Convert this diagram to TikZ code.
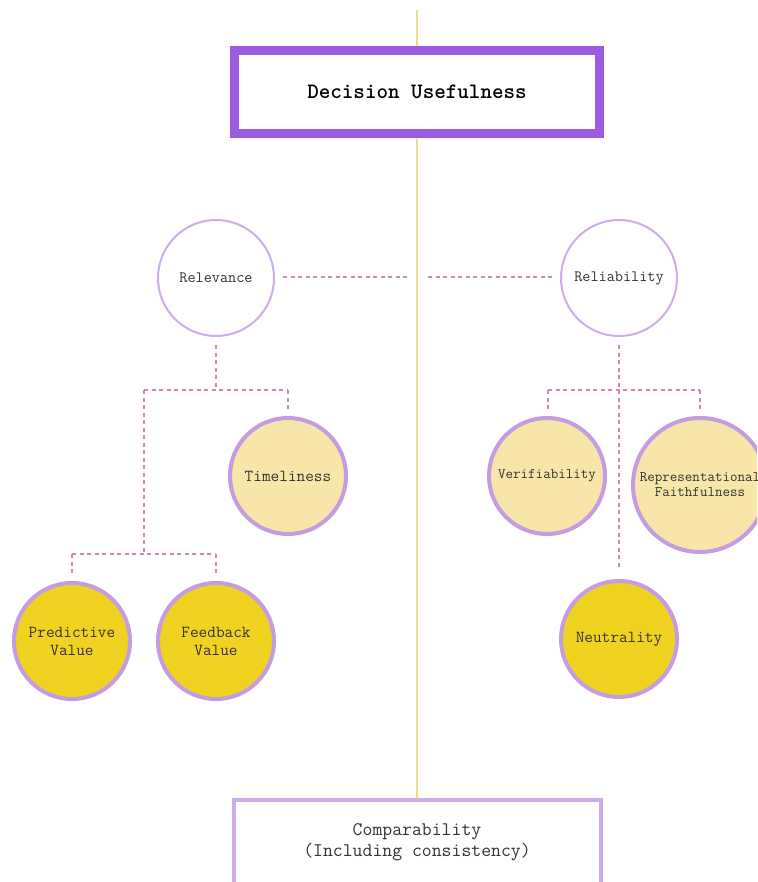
\documentclass[tikz,border=0pt]{standalone}
\usepackage{fontspec}
\begin{document}
\begin{tikzpicture}[x=1pt,y=-1pt,
  lbl/.style={font=\ttfamily\fontsize{16.8}{18}\selectfont, text=black!80, align=center},
  topcirc/.style={circle, draw=purpleL, line width=2pt, fill=white, minimum size=116pt, inner sep=0pt, lbl, font=\ttfamily\fontsize{15.8}{18}\selectfont},
  lightcirc/.style={circle, draw=purpleM, line width=4pt, fill=yellowL, minimum size=116pt, inner sep=0pt, lbl},
  goldcirc/.style={circle, draw=purpleM, line width=4pt, fill=yellowG, minimum size=116pt, inner sep=0pt, lbl},
  dsh/.style={draw=pinkD, line width=1.2pt, dash pattern=on 4pt off 3.5pt},
]
\definecolor{purpleD}{HTML}{9C5CDF}
\definecolor{purpleL}{HTML}{CDAEEA}
\definecolor{purpleM}{HTML}{C49CE2}
\definecolor{yellowL}{HTML}{F7E5A9}
\definecolor{yellowG}{HTML}{EFD320}
\definecolor{yellowLine}{HTML}{F0DC8E}
\definecolor{pinkD}{HTML}{CC88BB}
\useasboundingbox (0,0) rectangle (757,882);
\fill[white] (0,0) rectangle (757,882);
\clip (0,0) rectangle (757,882);

% spine
\coordinate (spTop) at (417,10);
\coordinate (spBot) at (417,800);
\draw[yellowLine, line width=2pt] (spTop) -- (spBot);

% top box
\node[draw=purpleD, line width=9pt, fill=white, minimum width=365pt, minimum height=83pt,
  font=\ttfamily\bfseries\fontsize{22}{24}\selectfont, text=black] (du) at (417,92) {Decision Usefulness};

% bottom box
\node[draw=purpleL, line width=4pt, fill=white, minimum width=367pt, minimum height=85pt,
  font=\ttfamily\fontsize{19.2}{21}\selectfont, text=black!80, align=center] (comp) at (417,842.5)
  {Comparability\\(Including consistency)};

% second level
\node[topcirc] (rel) at (216,278) {Relevance};
\node[topcirc] (rlb) at (619,278) {Reliability};

% third level
\node[lightcirc] (tim) at (288,476) {Timeliness};
\node[lightcirc, font=\ttfamily\fontsize{14.6}{15}\selectfont] (ver) at (547,476) {Verifiability};
\node[lightcirc, minimum size=134pt, font=\ttfamily\fontsize{14.6}{15}\selectfont] (rep) at (700,485) {Representational\\Faithfulness};

\node[goldcirc] (pv) at (72,641) {Predictive\\Value};
\node[goldcirc] (fv) at (216,641) {Feedback\\Value};
\node[goldcirc] (neu) at (619,639) {Neutrality};

% Relevance -- Reliability link
\coordinate (hL1) at (283,277);
\coordinate (hL2) at (410,277);
\coordinate (hR1) at (428,277);
\coordinate (hR2) at (555,277);
\draw[dsh] (hL1) -- (hL2);
\draw[dsh] (hR1) -- (hR2);

% Relevance tree
\coordinate (a0) at (216,345);
\coordinate (a1) at (216,390);
\coordinate (aL) at (144,390);
\coordinate (aR) at (288,390);
\coordinate (aRd) at (288,411);
\coordinate (aLd) at (144,554);
\coordinate (bL) at (72,554);
\coordinate (bR) at (216,554);
\coordinate (bLd) at (72,573);
\coordinate (bRd) at (216,573);
\draw[dsh] (a0) -- (a1);
\draw[dsh] (aL) -- (aR);
\draw[dsh] (aR) -- (aRd);
\draw[dsh] (aL) -- (aLd);
\draw[dsh] (bL) -- (bR);
\draw[dsh] (bL) -- (bLd);
\draw[dsh] (bR) -- (bRd);

% Reliability tree
\coordinate (c0) at (619,345);
\coordinate (c1) at (619,390);
\coordinate (cL) at (548,390);
\coordinate (cR) at (700,390);
\coordinate (cLd) at (548,411);
\coordinate (cRd) at (700,411);
\coordinate (cMd) at (619,567);
\draw[dsh] (c0) -- (c1);
\draw[dsh] (cL) -- (cR);
\draw[dsh] (cL) -- (cLd);
\draw[dsh] (cR) -- (cRd);
\draw[dsh] (c1) -- (cMd);
\end{tikzpicture}
\end{document}
